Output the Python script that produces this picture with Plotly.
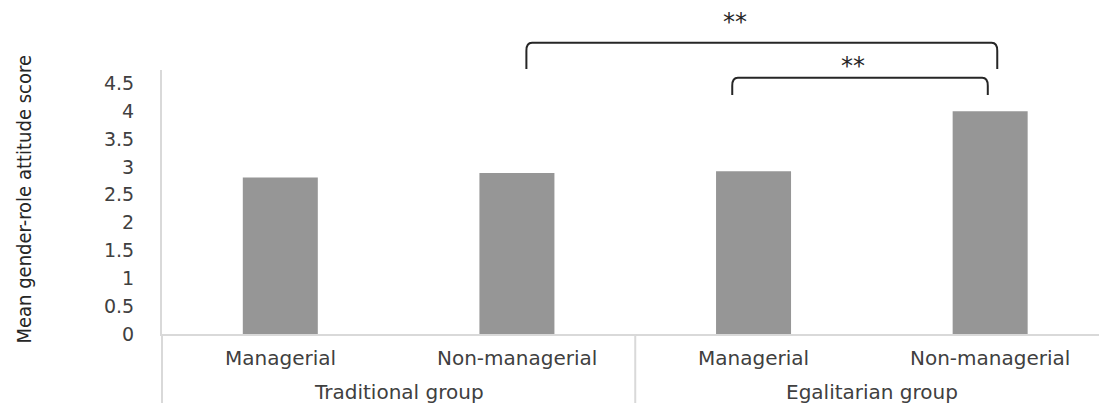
import plotly.graph_objects as go

# Mean gender-role attitude score by group and job level
groups = ["Traditional group", "Traditional group", "Egalitarian group", "Egalitarian group"]
job_levels = ["Managerial", "Non-managerial", "Managerial", "Non-managerial"]
mean_scores = [2.81, 2.89, 2.92, 4.0]

y_tick_values = [0, 0.5, 1, 1.5, 2, 2.5, 3, 3.5, 4, 4.5]
y_tick_labels = ["0", "0.5", "1", "1.5", "2", "2.5", "3", "3.5", "4", "4.5"]

# Significance brackets: (from bar index, to bar index, bar-level y, top y, label, label x, label y)
brackets = [
    (1.04, 3.03, 4.76, 5.23, "**", 1.92, 5.60),
    (1.91, 2.99, 4.29, 4.60, "**", 2.42, 4.81),
]

Y_MAX = 4.74
X_MIN, X_MAX = -0.5, 3.46
PLOT_H = 264  # plot-area height in px (403 - 70 top - 69 bottom)

AXIS_GRAY = "#d9d9d9"
TEXT = "#404040"
BAR = "#969696"
INK = "#262626"

fig = go.Figure()
fig.add_trace(go.Bar(
    x=[groups, job_levels],
    y=mean_scores,
    marker=dict(color=BAR, line=dict(width=0)),
    width=0.317,
    showlegend=False,
))


def px_x(idx):
    return (idx - X_MIN) / (X_MAX - X_MIN)


def py(val):
    return val / Y_MAX


shapes = []
annotations = []

# significance brackets with rounded shoulders
for x0, x1, y_leg, y_top, label, lx, ly in brackets:
    a, b = px_x(x0), px_x(x1)
    yl, yt = py(y_leg), py(y_top)
    dx = 0.006
    dy = 0.03
    path = (
        f"M {a},{yl} L {a},{yt - dy} Q {a},{yt} {a + dx},{yt} "
        f"L {b - dx},{yt} Q {b},{yt} {b},{yt - dy} L {b},{yl}"
    )
    shapes.append(dict(type="path", path=path, xref="paper", yref="paper",
                       line=dict(color=INK, width=2)))
    annotations.append(dict(text=label, x=px_x(lx), y=py(ly), xref="paper", yref="paper",
                            showarrow=False, xanchor="center", yanchor="middle",
                            font=dict(family="DejaVu Sans", size=24, color=INK)))

# two-level category labels under the axis
row1_y = -24 / PLOT_H
row2_y = -58 / PLOT_H
bottom_y = -69 / PLOT_H
for i, name in enumerate(job_levels):
    annotations.append(dict(text=name, x=px_x(i), y=row1_y, xref="paper", yref="paper",
                            showarrow=False, xanchor="center", yanchor="middle",
                            font=dict(family="DejaVu Sans", size=20, color=TEXT)))

group_names = list(dict.fromkeys(groups))
for g in group_names:
    idx = [i for i, name in enumerate(groups) if name == g]
    center = sum(idx) / len(idx)
    annotations.append(dict(text=g, x=px_x(center), y=row2_y, xref="paper", yref="paper",
                            showarrow=False, xanchor="center", yanchor="middle",
                            font=dict(family="DejaVu Sans", size=20, color=TEXT)))
    # divider on each group's left edge
    left_edge = min(idx) - 0.5
    shapes.append(dict(type="line", xref="paper", yref="paper",
                       x0=px_x(left_edge), x1=px_x(left_edge), y0=0, y1=bottom_y,
                       line=dict(color=AXIS_GRAY, width=2)))

annotations.append(dict(
    text="Mean gender-role attitude score",
    x=-0.147, y=0.51, xref="paper", yref="paper", textangle=-90,
    showarrow=False, xanchor="center", yanchor="middle",
    font=dict(family="Liberation Sans Narrow, DejaVu Sans Condensed", size=20, color=INK),
))

fig.update_layout(
    width=1099, height=403,
    margin=dict(l=162, r=0, t=70, b=69),
    paper_bgcolor="white", plot_bgcolor="white",
    shapes=shapes, annotations=annotations,
    font=dict(family="DejaVu Sans", size=20, color=TEXT),
    xaxis=dict(
        type="multicategory",
        range=[X_MIN, X_MAX],
        showline=True, linecolor=AXIS_GRAY, linewidth=2,
        showgrid=False, ticks="",
        showticklabels=False,
    ),
    yaxis=dict(
        range=[0, Y_MAX],
        tickvals=y_tick_values, ticktext=y_tick_labels,
        showline=True, linecolor=AXIS_GRAY, linewidth=2,
        showgrid=False, zeroline=False, ticks="",
        ticklabelstandoff=22,
        tickfont=dict(family="DejaVu Sans", size=19, color=TEXT),
    ),
)

fig.write_html("out.html")
